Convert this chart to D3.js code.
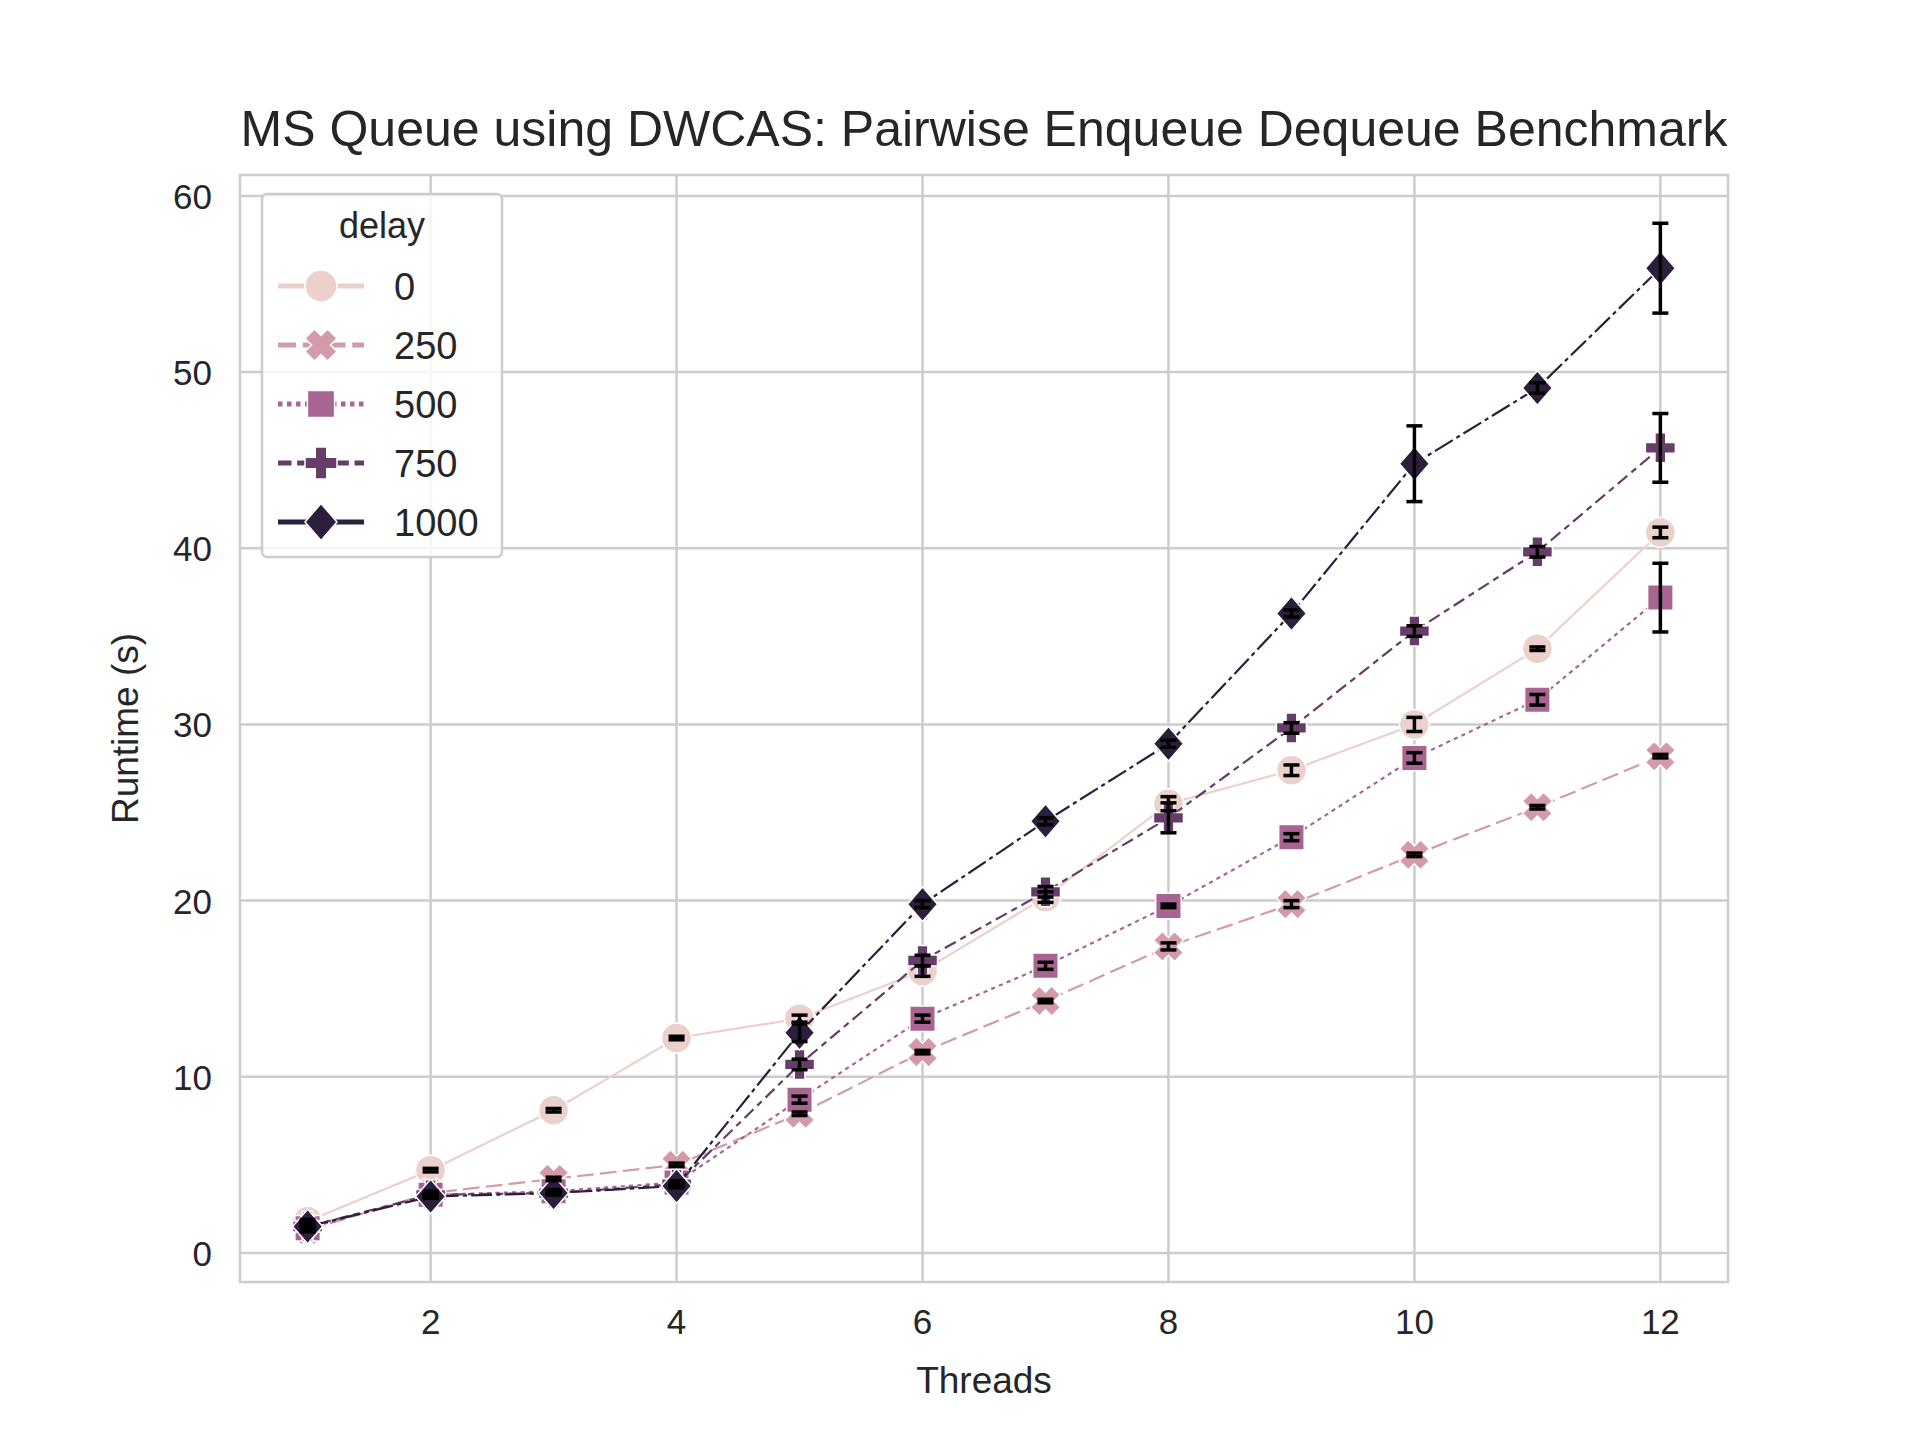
<!DOCTYPE html>
<html>
<head>
<meta charset="utf-8">
<title>MS Queue using DWCAS</title>
<script src="https://d3js.org/d3.v7.min.js"></script>
<style>
  body { margin: 0; background: #fff; }
  text { font-family: "Liberation Sans", Arial, sans-serif; fill: #262626; }
</style>
</head>
<body>
<svg id="chart" width="1920" height="1440"></svg>
<script>
const threads = [1, 2, 3, 4, 5, 6, 7, 8, 9, 10, 11, 12];
const delays = ["0", "250", "500", "750", "1000"];
const runtime0    = [1.8, 4.7, 8.1, 12.2, 13.3, 16.0, 20.2, 25.5, 27.4, 30.0, 34.3, 40.9];
const runtime250  = [1.3, 3.4, 4.2, 5.0, 7.9, 11.4, 14.3, 17.4, 19.8, 22.6, 25.3, 28.2];
const runtime500  = [1.4, 3.3, 3.5, 4.0, 8.7, 13.3, 16.3, 19.7, 23.6, 28.1, 31.4, 37.2];
const runtime750  = [1.5, 3.3, 3.4, 3.9, 10.7, 16.6, 20.5, 24.7, 29.8, 35.3, 39.8, 45.7];
const runtime1000 = [1.5, 3.2, 3.4, 3.8, 12.5, 19.8, 24.5, 28.9, 36.3, 44.8, 49.1, 55.9];
const err0    = [0.1, 0.1, 0.1, 0.1, 0.2, 0.3, 0.3, 0.4, 0.3, 0.4, 0.1, 0.3];
const err250  = [0.1, 0.1, 0.1, 0.1, 0.1, 0.1, 0.1, 0.2, 0.2, 0.1, 0.1, 0.1];
const err500  = [0.1, 0.1, 0.1, 0.1, 0.2, 0.2, 0.2, 0.1, 0.2, 0.3, 0.3, 1.95];
const err750  = [0.1, 0.1, 0.1, 0.1, 0.3, 0.3, 0.3, 0.85, 0.3, 0.3, 0.3, 1.95];
const err1000 = [0.1, 0.1, 0.1, 0.1, 0.5, 0.2, 0.2, 0.2, 0.2, 2.15, 0.3, 2.55];
const xTicks = [2, 4, 6, 8, 10, 12];
const yTicks = [0, 10, 20, 30, 40, 50, 60];

const series = [
  {name: delays[0], values: runtime0, err: err0, color: "#ecd0cb", dash: null, legendDash: null, marker: "circle"},
  {name: delays[1], values: runtime250, err: err250, color: "#d39ba9", dash: [4, 1.5], legendDash: [4, 1.5], marker: "x"},
  {name: delays[2], values: runtime500, err: err500, color: "#a86592", dash: [1, 1], legendDash: [1, 1], marker: "square"},
  {name: delays[3], values: runtime750, err: err750, color: "#663c69", dash: [3, 1.25, 1.5, 1.25], legendDash: [3, 1.25], marker: "plus"},
  {name: delays[4], values: runtime1000, err: err1000, color: "#2c1e3d", dash: [5, 1, 1, 1], legendDash: null, marker: "diamond"}
];

const svg = d3.select("#chart");
const L = 240, R = 1728, T = 175, B = 1282;
const x = d3.scaleLinear().domain([0.45, 12.55]).range([L, R]);
const y = d3.scaleLinear().domain([-1.65, 61.19]).range([B, T]);

// grid
svg.append("g").selectAll("line").data(xTicks).join("line")
  .attr("x1", d => x(d)).attr("x2", d => x(d)).attr("y1", T).attr("y2", B)
  .attr("stroke", "#cccccc").attr("stroke-width", 2.5);
svg.append("g").selectAll("line").data(yTicks).join("line")
  .attr("y1", d => y(d)).attr("y2", d => y(d)).attr("x1", L).attr("x2", R)
  .attr("stroke", "#cccccc").attr("stroke-width", 2.5);
svg.append("rect").attr("x", L).attr("y", T).attr("width", R - L).attr("height", B - T)
  .attr("fill", "none").attr("stroke", "#cccccc").attr("stroke-width", 2.5);

// tick labels
svg.append("g").selectAll("text").data(xTicks).join("text")
  .attr("x", d => x(d)).attr("y", B + 52).attr("text-anchor", "middle")
  .attr("font-size", 35).text(d => d);
svg.append("g").selectAll("text").data(yTicks).join("text")
  .attr("x", L - 28).attr("y", d => y(d) + 13).attr("text-anchor", "end")
  .attr("font-size", 35).text(d => d);

svg.append("text").attr("x", (L + R) / 2).attr("y", 1393).attr("text-anchor", "middle")
  .attr("font-size", 37).text("Threads");
svg.append("text").attr("transform", `translate(138,${(T + B) / 2}) rotate(-90)`)
  .attr("text-anchor", "middle").attr("font-size", 37).text("Runtime (s)");
svg.append("text").attr("x", (L + R) / 2).attr("y", 146).attr("text-anchor", "middle")
  .attr("font-size", 50).text("MS Queue using DWCAS: Pairwise Enqueue Dequeue Benchmark");

function markerPath(type, s) {
  if (type === "circle") return d3.symbol(d3.symbolCircle, Math.PI * s * s)();
  if (type === "square") { const h = s * 0.85; return `M${-h},${-h}H${h}V${h}H${-h}Z`; }
  if (type === "diamond") return `M0,${-s * 1.15}L${s},0L0,${s * 1.15}L${-s},0Z`;
  const a = s, b = type === "x" ? s * 0.42 : s * 0.36;
  return `M${-b},${-a}H${b}V${-b}H${a}V${b}H${b}V${a}H${-b}V${b}H${-a}V${-b}H${-b}Z`;
}

const line = d3.line().x(d => x(d[0])).y(d => y(d[1]));
const lw = 2.2;

series.forEach(s => {
  const pts = threads.map((t, i) => [t, s.values[i], s.err[i]]);
  svg.append("path").datum(pts).attr("d", line).attr("fill", "none")
    .attr("stroke", s.color).attr("stroke-width", lw)
    .attr("stroke-dasharray", s.dash ? s.dash.map(v => v * lw * 1.9).join(",") : null);
  svg.append("g").selectAll("path").data(pts).join("path")
    .attr("d", markerPath(s.marker, 15))
    .attr("transform", d => `translate(${x(d[0])},${y(d[1])})` + (s.marker === "x" ? " rotate(45)" : ""))
    .attr("fill", s.color).attr("stroke", "#fff").attr("stroke-width", 1.5);
});

// error bars
series.forEach(s => {
  const g = svg.append("g").attr("stroke", "#000").attr("stroke-width", 3.5);
  threads.forEach((t, i) => {
    const cx = x(t), y1 = y(s.values[i] - s.err[i]), y2 = y(s.values[i] + s.err[i]);
    g.append("line").attr("x1", cx).attr("x2", cx).attr("y1", y1).attr("y2", y2);
    g.append("line").attr("x1", cx - 8).attr("x2", cx + 8).attr("y1", y1).attr("y2", y1);
    g.append("line").attr("x1", cx - 8).attr("x2", cx + 8).attr("y1", y2).attr("y2", y2);
  });
});

// legend
const lg = svg.append("g");
lg.append("rect").attr("x", 262).attr("y", 194).attr("width", 240).attr("height", 363).attr("rx", 5)
  .attr("fill", "#fff").attr("fill-opacity", 0.8).attr("stroke", "#cccccc").attr("stroke-width", 2.5);
lg.append("text").attr("x", 382).attr("y", 238).attr("text-anchor", "middle").attr("font-size", 36).text("delay");
series.forEach((s, i) => {
  const yy = 286 + i * 59;
  lg.append("line").attr("x1", 278).attr("x2", 364).attr("y1", yy).attr("y2", yy)
    .attr("stroke", s.color).attr("stroke-width", 5)
    .attr("stroke-dasharray", s.legendDash ? s.legendDash.map(v => v * 4.5).join(",") : null);
  lg.append("path").attr("d", markerPath(s.marker, 16))
    .attr("transform", `translate(321,${yy})` + (s.marker === "x" ? " rotate(45)" : ""))
    .attr("fill", s.color).attr("stroke", "#fff").attr("stroke-width", 1.5);
  lg.append("text").attr("x", 394).attr("y", yy + 14).attr("font-size", 38).text(s.name);
});
</script>
</body>
</html>
